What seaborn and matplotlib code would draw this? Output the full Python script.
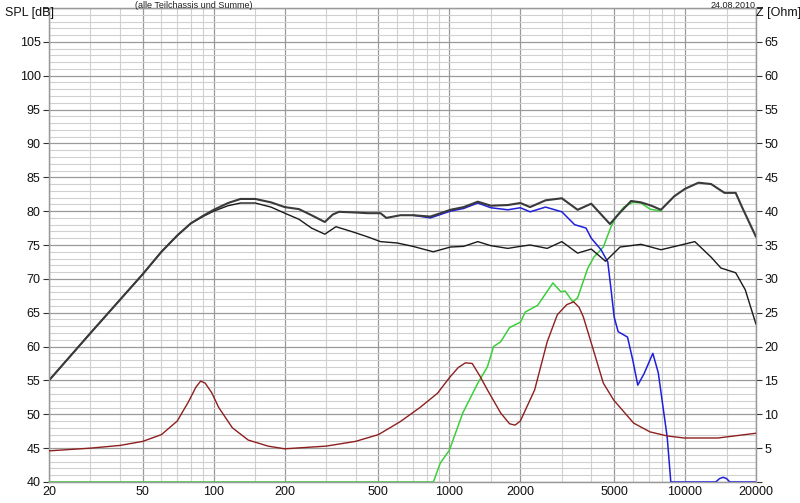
import pandas as pd
import matplotlib
matplotlib.use('Agg')
import matplotlib.pyplot as plt
import seaborn as sns

sns.set_style('white')
plt.rcParams['font.family'] = ['Liberation Sans', 'DejaVu Sans']

# --- data ---
# upper black curve: sum response (SPL dB)
sum_f = [20, 30, 40, 50, 60, 70, 80, 90, 100, 115, 130, 150, 175, 200, 230, 260, 296, 320, 340,
         400, 450, 510, 540, 620, 700, 830, 900, 1010, 1150, 1320, 1500, 1770, 2000, 2200, 2560,
         3000, 3500, 4000, 4800, 5300, 5900, 6500, 7200, 7900, 9000, 10000, 11400, 12900,
         14700, 16400, 17500, 20000]
sum_spl = [55.0, 62.0, 66.9, 70.7, 74.0, 76.4, 78.2, 79.3, 80.2, 81.2, 81.8, 81.8, 81.3, 80.6,
           80.3, 79.4, 78.4, 79.5, 79.9, 79.8, 79.7, 79.7, 79.0, 79.4, 79.4, 79.2, 79.6, 80.2,
           80.6, 81.4, 80.8, 80.9, 81.2, 80.6, 81.6, 81.9, 80.2, 81.1, 78.1, 79.8, 81.5, 81.3,
           80.8, 80.2, 82.2, 83.3, 84.2, 84.0, 82.7, 82.7, 80.5, 76.2]

# lower black curve
low_f = [20, 30, 40, 50, 60, 70, 80, 90, 100, 115, 130, 150, 175, 200, 230, 260, 296, 330, 360,
         400, 450, 510, 600, 700, 854, 1010, 1150, 1320, 1500, 1770, 2000, 2200, 2600, 3000,
         3500, 4000, 4600, 5300, 6500, 7900, 9600, 11000, 12900, 14200, 16400, 18000, 20000]
low_spl = [55.0, 62.0, 66.9, 70.7, 74.0, 76.4, 78.2, 79.2, 80.0, 80.8, 81.2, 81.2, 80.6, 79.7,
           78.8, 77.5, 76.6, 77.7, 77.3, 76.8, 76.2, 75.5, 75.3, 74.8, 74.0, 74.7, 74.8, 75.5,
           74.9, 74.5, 74.8, 75.0, 74.5, 75.5, 73.8, 74.4, 72.6, 74.7, 75.1, 74.3, 75.0, 75.5,
           73.2, 71.6, 70.9, 68.4, 63.3]

# blue curve: woofer
woof_f = [700, 830, 1010, 1150, 1320, 1500, 1770, 2000, 2200, 2560, 3000, 3400, 3800, 4000,
          4400, 4700, 4850, 5000, 5200, 5700, 6000, 6300, 6700, 7300, 7700, 8400, 8700, 13500,
          14000, 14500, 15000, 15500, 20000]
woof_spl = [79.4, 79.0, 80.0, 80.4, 81.2, 80.5, 80.2, 80.5, 79.9, 80.6, 79.9, 78.0, 77.5, 76.0,
            74.3, 72.5, 68.5, 64.4, 62.2, 61.4, 58.0, 54.3, 56.0, 59.0, 56.1, 46.6, 40.0, 40.0,
            40.5, 40.7, 40.5, 40.0, 40.0]

# green curve: tweeter
tw_f = [20, 855, 915, 1000, 1140, 1320, 1450, 1540, 1650, 1800, 2000, 2100, 2370, 2750, 2970,
        3100, 3340, 3500, 3860, 4100, 4500, 4850, 5100, 5500, 6000, 6500, 7100, 7900]
tw_spl = [40.0, 40.0, 42.8, 44.7, 50.2, 54.6, 57.0, 60.0, 60.7, 62.8, 63.6, 65.1, 66.1, 69.4,
          68.1, 68.2, 66.6, 67.2, 71.5, 73.2, 74.7, 77.7, 79.2, 80.6, 81.3, 81.2, 80.3, 80.0]

# red curve: impedance (Ohm, right axis)
imp_f = [20, 30, 40, 50, 60, 70, 78, 84, 88, 92, 98, 105, 120, 140, 170, 200, 300, 400, 500,
         618, 750, 890, 1000, 1090, 1170, 1250, 1350, 1450, 1650, 1800, 1900, 2000, 2300, 2600,
         2870, 3150, 3370, 3550, 3700, 4050, 4500, 4980, 6050, 7100, 8400, 9900, 13800, 20000]
imp_z = [4.6, 5.0, 5.4, 6.0, 7.0, 9.0, 11.8, 14.0, 14.9, 14.6, 13.2, 11.0, 8.0, 6.2, 5.3, 4.9,
         5.3, 6.0, 7.0, 8.9, 11.0, 13.1, 15.4, 16.9, 17.6, 17.5, 15.6, 13.6, 10.2, 8.6, 8.4,
         9.0, 13.6, 20.7, 24.7, 26.2, 26.6, 25.8, 24.4, 19.9, 14.6, 12.1, 8.7, 7.4, 6.8, 6.5,
         6.5, 7.2]

x_ticks = [20, 50, 100, 200, 500, 1000, 2000, 5000, 10000, 20000]
x_minor = [30, 40, 60, 70, 80, 90, 300, 400, 600, 700, 800, 900, 3000, 4000, 6000, 7000, 8000,
           9000]

fig = plt.figure(figsize=(8, 5.03), dpi=100)
ax = fig.add_axes([49 / 800, 1 - 482 / 503, 707 / 800, 474 / 503])
ax2 = ax.twinx()

ax.set_xscale('log')
ax.set_xlim(20, 20000)
ax.set_ylim(40, 110)
ax2.set_ylim(0, 70)

# grid
ax.set_xticks(x_ticks)
ax.set_xticklabels([str(t) for t in x_ticks])
ax.set_xticks(x_minor + [150, 1500, 15000], minor=True)
ax.set_xticklabels([], minor=True)
ax.set_yticks(range(40, 111, 5))
ax.set_yticklabels([str(v) if v < 110 else '' for v in range(40, 111, 5)])
ax.set_yticks(range(40, 111, 1), minor=True)
ax.grid(which='major', color='#9a9a9a', lw=0.9)
ax.grid(which='minor', color='#d0d0d0', lw=0.8)
ax.set_axisbelow(True)

ax2.set_yticks(range(0, 71, 5))
ax2.set_yticklabels([str(v) if 0 < v < 70 else '' for v in range(0, 71, 5)])

for a in (ax, ax2):
    for s in a.spines.values():
        s.set_color('#9a9a9a')
        s.set_linewidth(0.9)
    a.tick_params(which='major', length=4, width=0.8, color='#333333', labelsize=9,
                  pad=2, labelcolor='#111111')
    a.tick_params(which='minor', length=0)
ax.tick_params(axis='x', length=0, pad=3)

# curves
sns.lineplot(x=tw_f, y=tw_spl, ax=ax, color='#3ccf3c', lw=1.1, clip_on=False, zorder=3)
sns.lineplot(x=woof_f, y=woof_spl, ax=ax, color='#1f1fdc', lw=1.1, clip_on=False, zorder=3)
sns.lineplot(x=low_f, y=low_spl, ax=ax, color='#1a1a1a', lw=1.0, zorder=4)
sns.lineplot(x=sum_f, y=sum_spl, ax=ax, color='#3a3a3a', lw=1.5, zorder=4)
sns.lineplot(x=imp_f, y=imp_z, ax=ax2, color='#8e1f1f', lw=1.0, zorder=3)

ax.set_xlabel('')
ax.set_ylabel('')
ax2.set_ylabel('')

fig.text(5 / 800, 1 - 13 / 503, 'SPL [dB]', fontsize=9, va='center', ha='left', color='#111111')
fig.text(756 / 800, 1 - 13 / 503, 'Z [Ohm]', fontsize=9, va='center', ha='left', color='#111111')
fig.text(135 / 800, 1 - 1 / 503, '(alle Teilchassis und Summe)', fontsize=6.5, va='top',
         ha='left', color='#222222')
fig.text(756 / 800, 1 - 1 / 503, '24.08.2010', fontsize=6.5, va='top', ha='right',
         color='#222222')

fig.savefig('out.png', dpi=100, facecolor='white')
